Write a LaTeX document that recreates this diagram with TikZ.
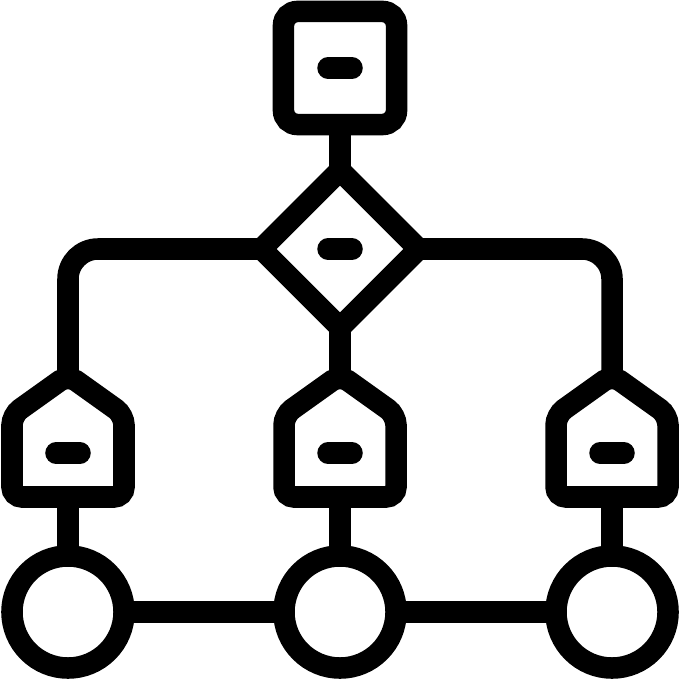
\documentclass[tikz,border=0pt]{standalone}
\usepackage{tikz}
\usetikzlibrary{shapes.geometric}

\tikzset{
  topbox/.style={draw, rectangle, rounded corners=1.4mm, minimum width=1.13cm, minimum height=1.13cm, inner sep=0, outer sep=0},
  decide/.style={draw, diamond, minimum width=1.57cm, minimum height=1.57cm, inner sep=0, outer sep=0},
  ring/.style={draw, circle, minimum size=1.12cm, inner sep=0, outer sep=0},
  pill/.style={line cap=round},
  house/.style={rounded corners=1mm}
}

\begin{document}
\begin{tikzpicture}[x=0.01cm, y=-0.01cm, line width=2.15mm]
\useasboundingbox (0,0) rectangle (680,680);
% top box and decision
\node [topbox] (box) at (340,68) {};
\node [decide] (dia) at (340,249) {};
\draw [pill] (328,68) -- (352,68);
\draw [pill] (328,249) -- (352,249);
\draw (box.south) -- (dia.north);
% houses
\coordinate (hl-top) at (68,375);
\coordinate (hl-bot) at (68,497);
\coordinate (hm-top) at (340,375);
\coordinate (hm-bot) at (340,497);
\coordinate (hr-top) at (612,375);
\coordinate (hr-bot) at (612,497);
\draw [house] (68,497) -- (12,497) -- (12,415) -- (68,375) -- (124,415) -- (124,497) -- cycle;
\draw [house] (340,497) -- (284,497) -- (284,415) -- (340,375) -- (396,415) -- (396,497) -- cycle;
\draw [house] (612,497) -- (556,497) -- (556,415) -- (612,375) -- (668,415) -- (668,497) -- cycle;
\draw [pill] (56,453) -- (80,453);
\draw [pill] (328,453) -- (352,453);
\draw [pill] (600,453) -- (624,453);
% branches
\draw [rounded corners=3mm] (dia.west) -| (hl-top);
\draw [rounded corners=3mm] (dia.east) -| (hr-top);
\draw (dia.south) -- (hm-top);
% circles
\node [ring] (cl) at (68,612) {};
\node [ring] (cm) at (340,612) {};
\node [ring] (cr) at (612,612) {};
\draw (hl-bot) -- (cl.north);
\draw (hm-bot) -- (cm.north);
\draw (hr-bot) -- (cr.north);
\draw (cl) -- (cm);
\draw (cm) -- (cr);
\end{tikzpicture}
\end{document}
